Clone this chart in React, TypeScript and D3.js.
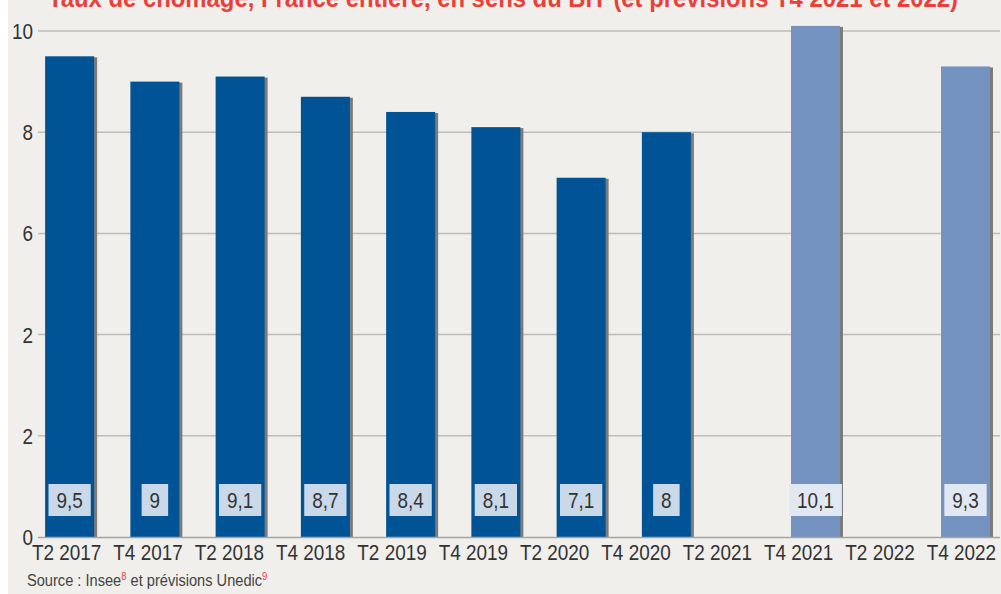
import { useEffect, useRef } from "react";
import * as d3 from "d3";

// Quarters shown on the x axis
const categories = [
  "T2 2017", "T4 2017", "T2 2018", "T4 2018", "T2 2019", "T4 2019",
  "T2 2020", "T4 2020", "T2 2021", "T4 2021", "T2 2022", "T4 2022",
];
const observedCats = categories.slice(0, 8);
const forecastCats = categories.slice(8);

// Unemployment rate (%), Insee observed and Unedic forecasts
const observedValues = [9.5, 9, 9.1, 8.7, 8.4, 8.1, 7.1, 8];
const forecastValues: (number | null)[] = [null, 10.1, null, 9.3];

const yTicks = [0, 2, 4, 6, 8, 10];
const yTickLabels = ["0", "2", "2", "6", "8", "10"];

const title =
  "Taux de chômage, France entière, en sens du BIT (et prévisions T4 2021 et 2022)";

// no narrow font installed: squeeze Liberation Sans horizontally instead
const FONT = "'Liberation Sans', Arial, sans-serif";
const SX = 0.86;
const place = (x: number, y: number) => `translate(${x},${y}) scale(${SX},1)`;

const App = () => {
  const svgRef = useRef<SVGSVGElement>(null);

  useEffect(() => {
    const width = 1001, height = 594;
    const svg = d3.select(svgRef.current);
    svg.selectAll("*").remove();
    svg.attr("width", width).attr("height", height);

    // chart panel, leaving the 8px white strip on the left
    svg.append("rect")
      .attr("x", 8).attr("y", 0)
      .attr("width", width - 8).attr("height", height)
      .attr("fill", "#f0efeb");

    const y = d3.scaleLinear().domain([0, 10]).range([537, 31]);
    const xAxis = d3.scaleBand().domain(categories).range([26, 1002]);
    const xObs = d3.scaleBand().domain(observedCats).range([27, 709]);
    const xFc = d3.scaleBand().domain(forecastCats).range([703, 1003]);
    const barW = 49;

    // title (partly cut off at the top)
    svg.append("text")
      .attr("x", 48).attr("y", 7)
      .attr("font-family", FONT)
      .attr("font-weight", "bold")
      .attr("font-size", "25px")
      .attr("fill", "#e8413c")
      .attr("textLength", 910)
      .attr("lengthAdjust", "spacingAndGlyphs")
      .text(title);

    // gridlines
    svg.selectAll(".grid")
      .data(yTicks.filter((t) => t > 0))
      .enter()
      .append("line")
      .attr("x1", 38).attr("x2", 1000)
      .attr("y1", (d) => y(d)).attr("y2", (d) => y(d))
      .attr("stroke", "#bdbdbd")
      .attr("stroke-width", 1.5);

    // y tick labels
    svg.selectAll(".ylab")
      .data(yTicks)
      .enter()
      .append("text")
      .attr("transform", (d) => place(33, y(d)))
      .attr("dy", "0.36em")
      .attr("text-anchor", "end")
      .attr("font-family", FONT)
      .attr("font-size", "22px")
      .attr("fill", "#333")
      .text((_, i) => yTickLabels[i]);

    type Bar = { cat: string; value: number; cx: number; forecast: boolean };
    const bars: Bar[] = [];
    observedCats.forEach((c, i) =>
      bars.push({ cat: c, value: observedValues[i], cx: xObs(c)! + xObs.bandwidth() / 2, forecast: false })
    );
    forecastCats.forEach((c, i) => {
      const v = forecastValues[i];
      if (v != null) bars.push({ cat: c, value: v, cx: xFc(c)! + xFc.bandwidth() / 2, forecast: true });
    });

    // bar shadows
    svg.selectAll(".shadow")
      .data(bars)
      .enter()
      .append("rect")
      .attr("x", (d) => d.cx - barW / 2 + 3)
      .attr("y", (d) => y(d.value) + 1)
      .attr("width", barW)
      .attr("height", (d) => y(0) - y(d.value) - 1)
      .attr("fill", "#7b7b7b");

    // bars
    svg.selectAll(".bar")
      .data(bars)
      .enter()
      .append("rect")
      .attr("x", (d) => d.cx - barW / 2)
      .attr("y", (d) => y(d.value))
      .attr("width", barW)
      .attr("height", (d) => y(0) - y(d.value))
      .attr("fill", (d) => (d.forecast ? "#7493c0" : "#005496"));

    // baseline
    svg.append("line")
      .attr("x1", 38).attr("x2", 1000)
      .attr("y1", y(0) + 0.5).attr("y2", y(0) + 0.5)
      .attr("stroke", "#a5a5a5")
      .attr("stroke-width", 1.5);

    // value labels in boxes
    const labels = svg.selectAll(".val")
      .data(bars)
      .enter()
      .append("g");
    const texts = labels.append("text")
      .attr("transform", (d) => place(d.cx, 508))
      .attr("text-anchor", "middle")
      .attr("font-family", FONT)
      .attr("font-size", "22px")
      .attr("fill", "#333")
      .text((d) => String(d.value).replace(".", ","));
    texts.each(function (d) {
      const w = (this as SVGTextElement).getComputedTextLength() * SX;
      d3.select((this as SVGTextElement).parentNode as SVGGElement)
        .insert("rect", "text")
        .attr("x", d.cx - w / 2 - 8)
        .attr("y", 484)
        .attr("width", w + 16)
        .attr("height", 32)
        .attr("fill", d.forecast ? "#e2e8f2" : "#c9d9e9");
    });

    // x axis labels
    svg.selectAll(".xlab")
      .data(categories)
      .enter()
      .append("text")
      .attr("transform", (d) => place(xAxis(d)! + xAxis.bandwidth() / 2, 560))
      .attr("text-anchor", "middle")
      .attr("font-family", FONT)
      .attr("font-size", "22px")
      .attr("fill", "#333")
      .text((d) => d);

    // source
    const src = svg.append("text")
      .attr("transform", place(27, 586))
      .attr("font-family", FONT)
      .attr("font-size", "17px")
      .attr("fill", "#444");
    src.append("tspan").text("Source : Insee");
    src.append("tspan").attr("dy", -6).attr("font-size", "11px").attr("fill", "#e8413c").text("8");
    src.append("tspan").attr("dy", 6).text(" et prévisions Unedic");
    src.append("tspan").attr("dy", -6).attr("font-size", "11px").attr("fill", "#e8413c").text("9");
  }, []);

  return (
    <svg
      ref={svgRef}
      style={{ position: "absolute", left: 0, top: 0, display: "block" }}
    ></svg>
  );
};

export default App;
